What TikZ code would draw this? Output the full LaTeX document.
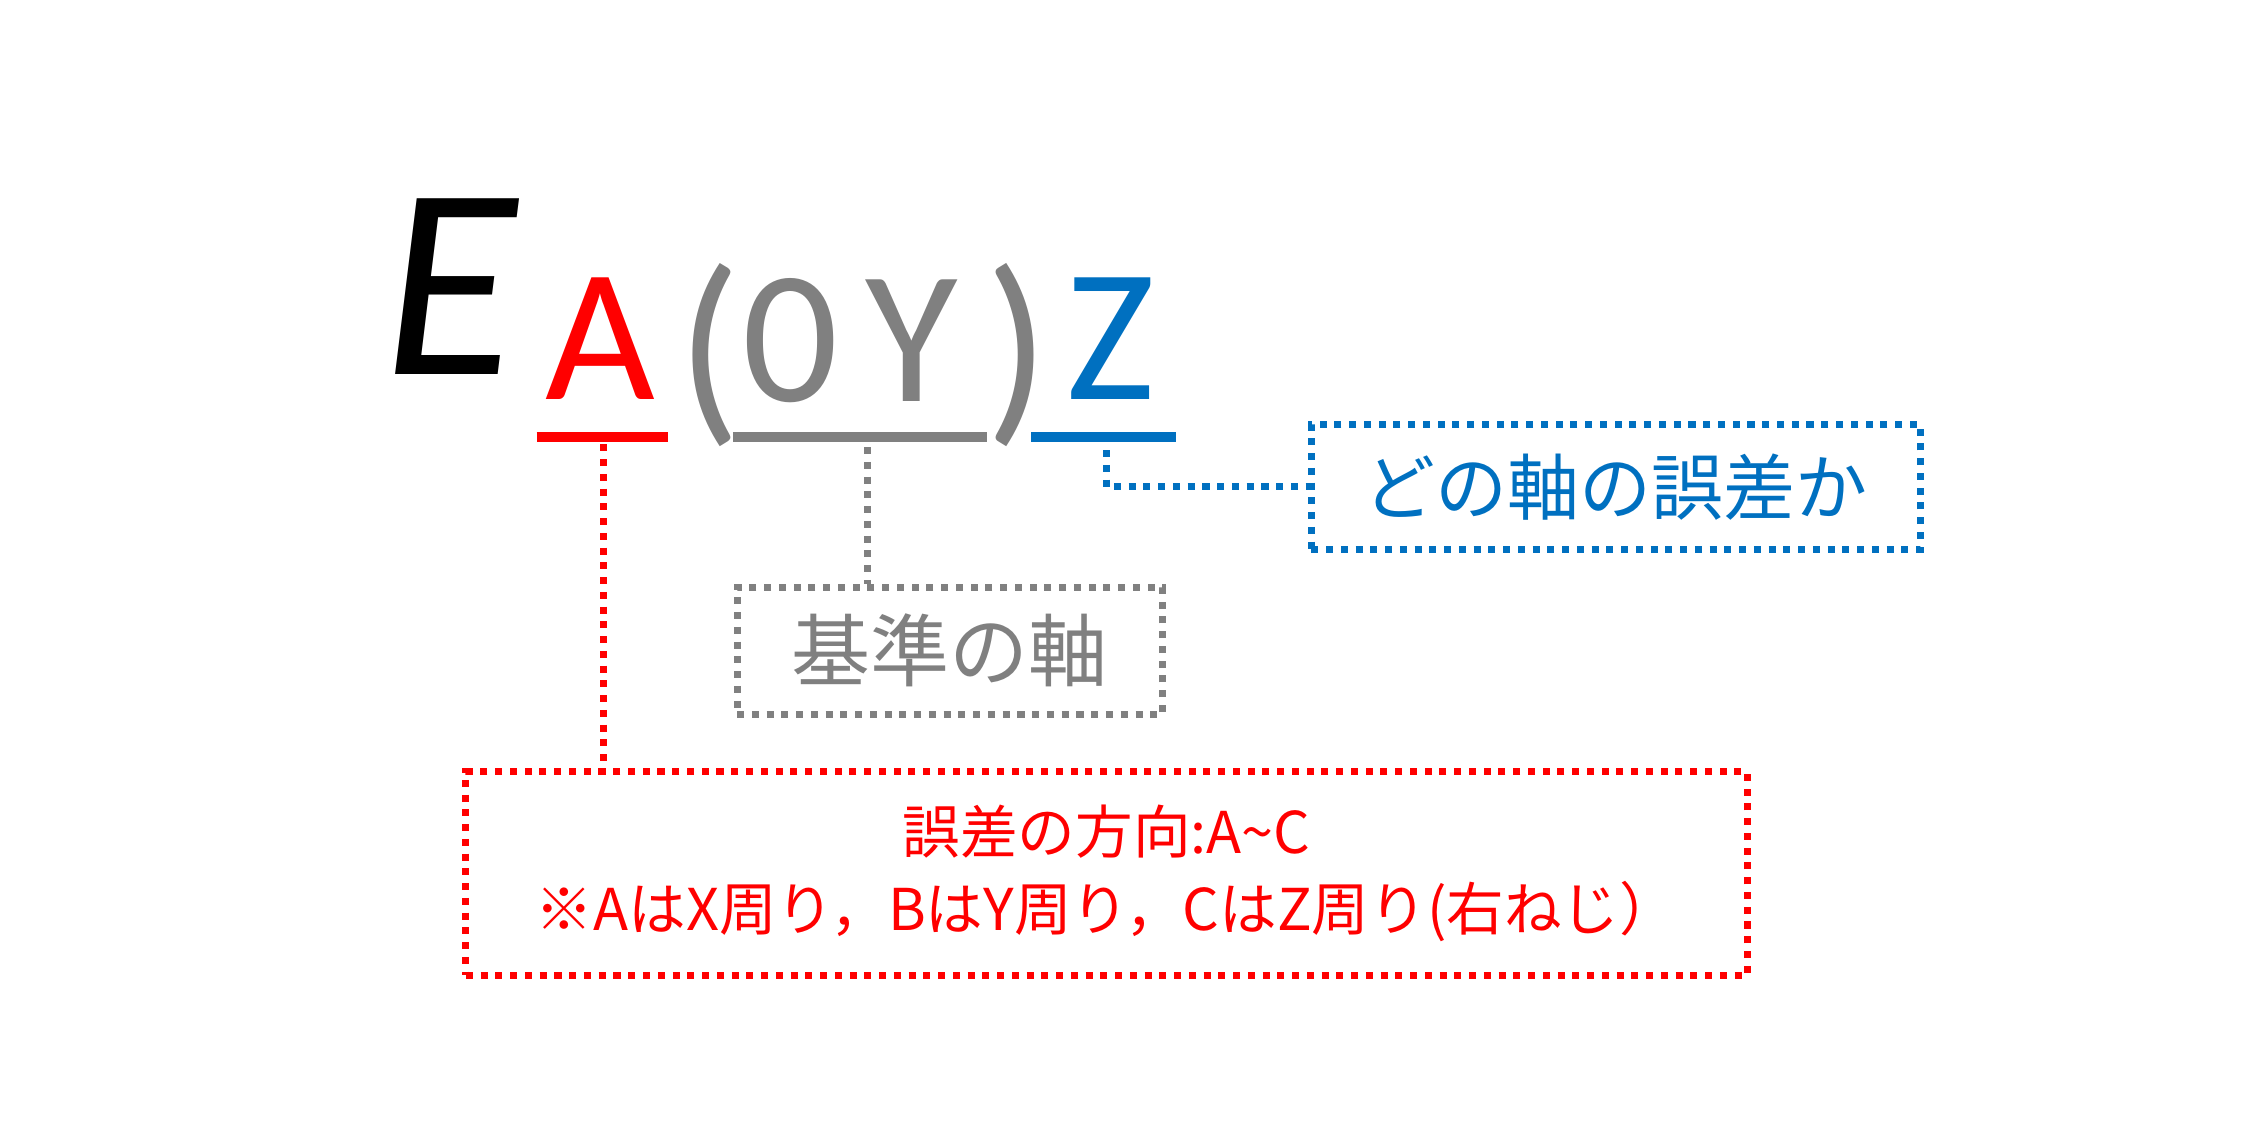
\documentclass[tikz,border=0pt]{standalone}
\usepackage{fontspec}
\setmainfont{Carlito}
\newfontfamily\jpfont{Noto Sans CJK JP}
\definecolor{errred}{RGB}{255,0,0}
\definecolor{axgray}{RGB}{128,128,128}
\definecolor{axblue}{RGB}{0,112,192}
\begin{document}
\begin{tikzpicture}[x=0.01443cm, y=-0.01443cm,
    letter/.style={inner sep=0pt, font=\fontsize{54}{54}\selectfont},
    bar/.style={line width=7pt*0.01443/0.0353},
    dots/.style={line width=2pt, dash pattern=on 2pt off 2.2pt},
    label box/.style={draw, dots, inner sep=0pt, font=\jpfont\fontsize{20.5}{24}\selectfont}
]
    \useasboundingbox (0,0) rectangle (1568,779);

    % symbol
    \node[inner sep=0pt, font=\fontsize{78}{78}\selectfont\itshape] (sym) at (312,199) {E};
    \node[letter, text=errred] (idxA) at (416,235) {A};
    \node[letter, text=axgray, font=\fontsize{60}{60}\selectfont] (lpar) at (492,246) {(};
    \node[letter, text=axgray] (zero) at (548,236) {0};
    \node[letter, text=axgray] (idxY) at (632,236) {Y};
    \node[letter, text=axgray, font=\fontsize{60}{60}\selectfont] (rpar) at (705,246) {)};
    \node[letter, text=axblue] (idxZ) at (770,235) {Z};

    % underlines
    \draw[bar, errred] (372,303) -- (463,303);
    \draw[bar, axgray] (508,303) -- (684,303);
    \draw[bar, axblue] (715,303) -- (815,303);
    \coordinate (redfoot) at (418,308);
    \coordinate (grayfoot) at (601,310);
    \coordinate (bluefoot) at (767,312);

    % boxes
    \node[label box, axblue, minimum width=422*0.01443cm, minimum height=87*0.01443cm] (which) at (1120,337.5) {どの軸の誤差か};
    \node[label box, axgray, minimum width=295*0.01443cm, minimum height=88*0.01443cm, font=\jpfont\fontsize{22.5}{24}\selectfont] (base) at (658.5,451) {基準の軸};
    \node[label box, errred, minimum width=888*0.01443cm, minimum height=141*0.01443cm, align=center,
          font=\jpfont\fontsize{16.4}{22}\selectfont] (dir) at (767,605.5)
        {誤差の方向:A\textasciitilde C\\※AはX周り，BはY周り，CはZ周り(右ねじ）};

    % connectors
    \draw[dots, errred] (redfoot) -- (redfoot |- dir.north);
    \draw[dots, axgray] (grayfoot) -- (grayfoot |- base.north);
    \draw[dots, axblue] (bluefoot) |- (which.west);

\end{tikzpicture}
\end{document}
